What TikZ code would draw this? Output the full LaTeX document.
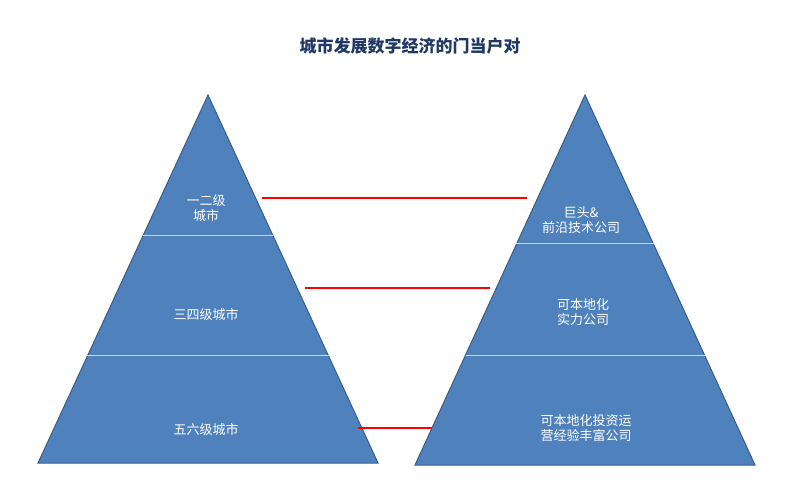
\documentclass[tikz,border=0pt]{standalone}
\usepackage{fontspec}
\setmainfont{Noto Sans CJK SC}
\begin{document}
\begin{tikzpicture}[x=1pt,y=-1pt,
  tri/.style={fill={rgb,255:red,79;green,129;blue,189},draw={rgb,255:red,56;green,93;blue,138},line width=1pt},
  sep/.style={draw={rgb,255:red,200;green,215;blue,235},line width=0.8pt},
  lab/.style={text=white,font=\fontsize{13}{15}\selectfont,align=center},
  link/.style={draw=red,line width=1.3pt}]
\useasboundingbox (0,0) rectangle (802,483);
\node[font=\bfseries\fontsize{17}{20}\selectfont,text={rgb,255:red,31;green,56;blue,100}] (title) at (410,46) {城市发展数字经济的门当户对};
% left
\draw[tri] (208,95) -- (378,463) -- (38,463) -- cycle;
\draw[sep] (143,235) -- (273,235);
\draw[sep] (87,355) -- (329,355);
% right
\draw[tri] (585,95) -- (755,465) -- (415,465) -- cycle;
\draw[sep] (516,243) -- (654,243);
\draw[sep] (466,355) -- (705,355);
\node[lab] (l1) at (206,208) {一二级\\城市};
\node[lab] (l2) at (206,315) {三四级城市};
\node[lab] (l3) at (206,430) {五六级城市};
\node[lab] (r1) at (581,220) {巨头\&\\前沿技术公司};
\node[lab] (r2) at (583,312) {可本地化\\实力公司};
\node[lab] (r3) at (586,428) {可本地化投资运\\营经验丰富公司};
\coordinate (a1) at (262,198); \coordinate (b1) at (527,198);
\coordinate (a2) at (305,288); \coordinate (b2) at (490,288);
\coordinate (a3) at (358,428); \coordinate (b3) at (432,428);
\draw[link] (a1) -- (b1);
\draw[link] (a2) -- (b2);
\draw[link] (a3) -- (b3);
\end{tikzpicture}
\end{document}
